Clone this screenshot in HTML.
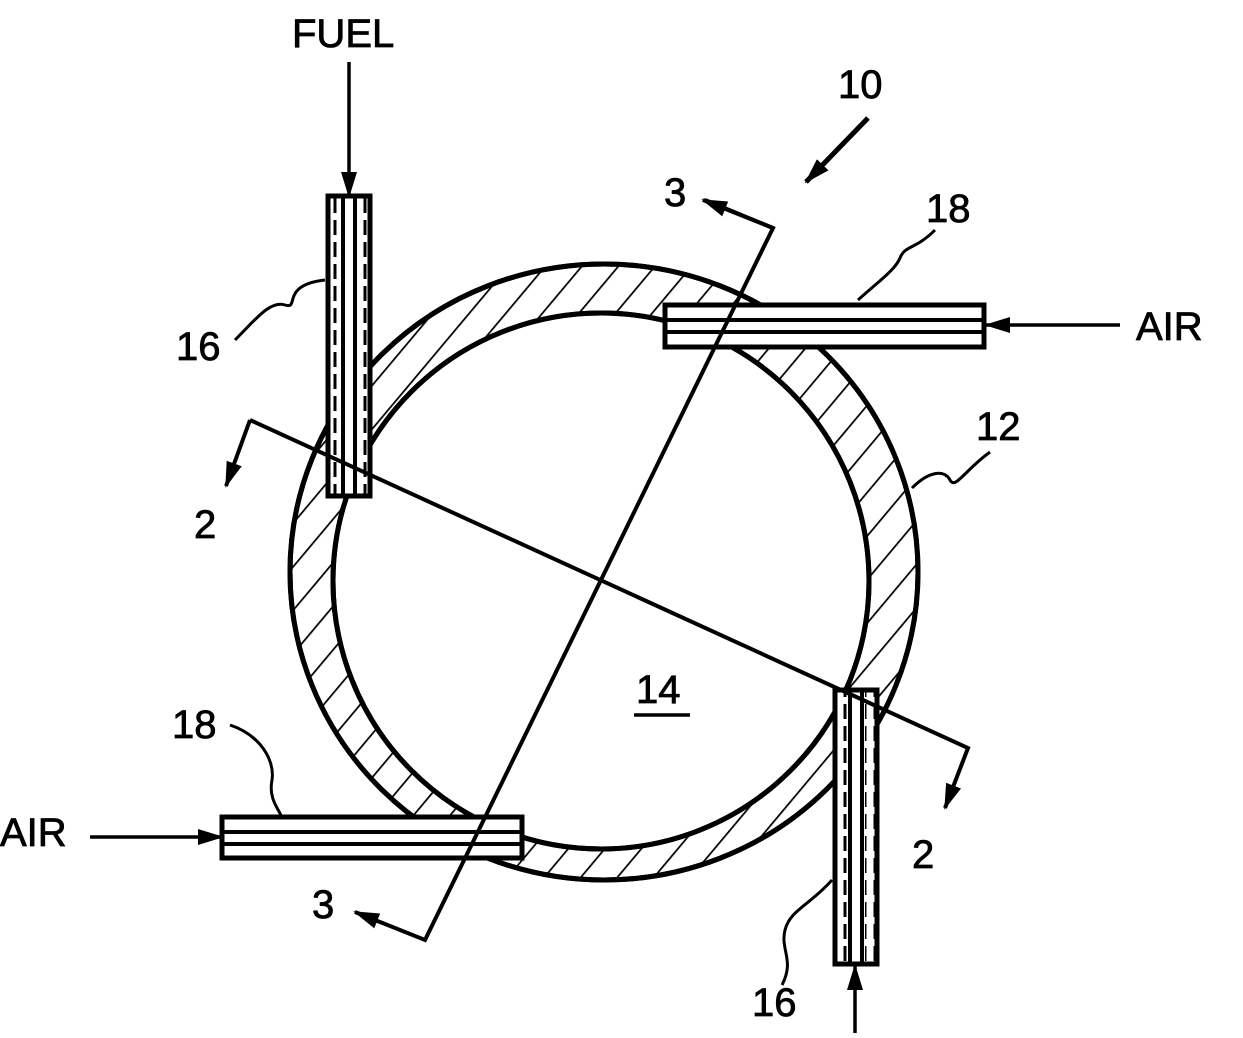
<!DOCTYPE html>
<html><head><style>
html,body{margin:0;padding:0;background:#fff;}
text{font-family:"Liberation Sans",Arial,sans-serif;font-size:40px;fill:#000;stroke:#000;stroke-width:0.8px;}
</style></head><body>
<svg width="1243" height="1033" viewBox="0 0 1243 1033" xmlns="http://www.w3.org/2000/svg">
<defs>
<pattern id="h" patternUnits="userSpaceOnUse" width="28" height="28" patternTransform="rotate(40)">
<line x1="0" y1="0" x2="0" y2="28" stroke="#000" stroke-width="3.5"/>
</pattern>
<pattern id="d" patternUnits="userSpaceOnUse" width="10" height="22">
<line x1="5" y1="0" x2="5" y2="15" stroke="#000" stroke-width="3"/>
</pattern>
<marker id="a" markerWidth="26" markerHeight="16" refX="24" refY="8" orient="auto" markerUnits="userSpaceOnUse" viewBox="0 0 26 16">
<path d="M0,0 L26,8 L0,16z" fill="#000" stroke="none"/>
</marker>
</defs>
<g stroke="#000" stroke-width="5" fill="none">
<path fill-rule="evenodd" fill="url(#h)" d="M290,572 a314,308 0 1,0 628,0 a314,308 0 1,0 -628,0z M333,581 a268,268 0 1,0 536,0 a268,268 0 1,0 -536,0z"/>
<ellipse cx="604" cy="572" rx="314" ry="308"/>
<circle cx="601" cy="581" r="268"/>
<rect x="328" y="196" width="42" height="300" fill="#fff"/>
<line x1="343" y1="196" x2="343" y2="496" stroke-width="4"/>
<line x1="355" y1="196" x2="355" y2="496" stroke-width="4"/>
<rect x="330" y="198" width="10" height="296" fill="url(#d)" stroke="none"/>
<rect x="358" y="198" width="10" height="296" fill="url(#d)" stroke="none"/>
<rect x="835" y="690" width="42" height="274" fill="#fff"/>
<line x1="850" y1="690" x2="850" y2="964" stroke-width="4"/>
<line x1="862" y1="690" x2="862" y2="964" stroke-width="4"/>
<rect x="837" y="692" width="10" height="270" fill="url(#d)" stroke="none"/>
<rect x="865" y="692" width="10" height="270" fill="url(#d)" stroke="none"/>
<rect x="665" y="305" width="319" height="42" fill="#fff"/>
<line x1="665" y1="320" x2="984" y2="320" stroke-width="4"/>
<line x1="665" y1="332" x2="984" y2="332" stroke-width="4"/>
<rect x="222" y="817" width="300" height="41" fill="#fff"/>
<line x1="222" y1="832" x2="522" y2="832" stroke-width="4"/>
<line x1="222" y1="844" x2="522" y2="844" stroke-width="4"/>
<polyline points="250,420 968,748 945,808" marker-end="url(#a)" stroke-width="4"/>
<line x1="250" y1="420" x2="226" y2="486" marker-end="url(#a)" stroke-width="4"/>
<polyline points="705,200 773,228 425,940 355,912" marker-end="url(#a)" stroke-width="4"/>
<line x1="773" y1="228" x2="703" y2="200" marker-end="url(#a)" stroke-width="4"/>
<line x1="349" y1="62" x2="349" y2="196" marker-end="url(#a)" stroke-width="3.5"/>
<line x1="1120" y1="325" x2="986" y2="325" marker-end="url(#a)" stroke-width="3.5"/>
<line x1="90" y1="837" x2="222" y2="837" marker-end="url(#a)" stroke-width="3.5"/>
<line x1="855" y1="1033" x2="855" y2="966" marker-end="url(#a)" stroke-width="3.5"/>
<line x1="868" y1="118" x2="806" y2="182" marker-end="url(#a)" stroke-width="5"/>
<path d="M235,340 C255,320 270,300 285,305 C300,310 280,285 325,280" stroke-width="3"/>
<path d="M858,300 C880,280 895,270 900,258 C905,245 915,250 935,230" stroke-width="3"/>
<path d="M912,488 C930,470 945,470 950,480 C955,490 965,470 990,452" stroke-width="3"/>
<path d="M230,725 C260,735 275,760 272,780 C268,800 280,810 282,818" stroke-width="3"/>
<path d="M782,985 C795,960 780,950 785,930 C790,910 810,905 832,880" stroke-width="3"/>
</g>
<text x="292" y="47">FUEL</text>
<text x="838" y="98">10</text>
<text x="664" y="206">3</text>
<text x="926" y="222">18</text>
<text x="1136" y="340">AIR</text>
<text x="176" y="360">16</text>
<text x="976" y="440">12</text>
<text x="194" y="538">2</text>
<text x="636" y="703">14</text>
<line x1="634" y1="715" x2="690" y2="715" stroke="#000" stroke-width="3.5"/>
<text x="172" y="738">18</text>
<text x="0" y="846">AIR</text>
<text x="912" y="868">2</text>
<text x="312" y="918">3</text>
<text x="752" y="1016">16</text>
</svg>
</body></html>
